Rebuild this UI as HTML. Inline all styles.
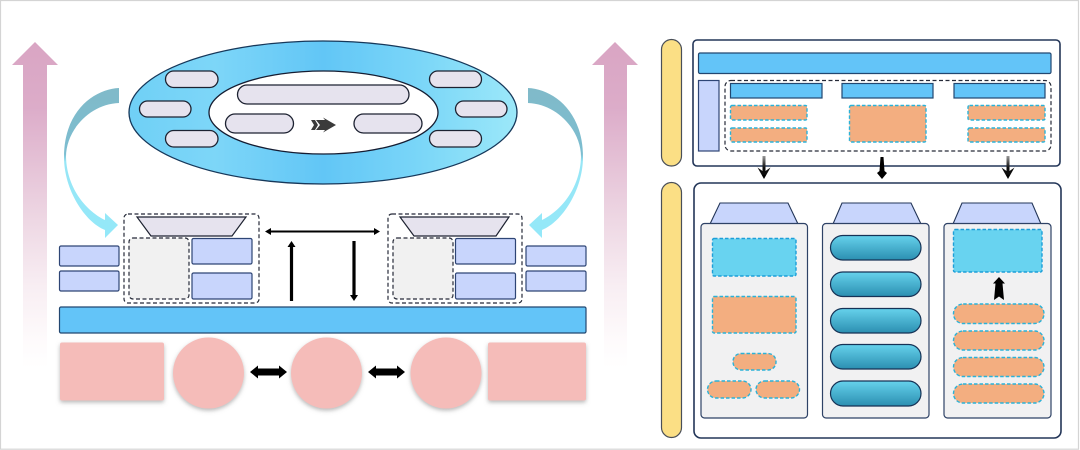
<!DOCTYPE html>
<html><head><meta charset="utf-8"><style>
html,body{margin:0;padding:0;background:#fff;width:1080px;height:450px;overflow:hidden}
svg{display:block}
.pill{fill:#e6e3ee;stroke:#1f2330;stroke-width:1.3}
.lb{fill:#c8d5fc;stroke:#2f4475;stroke-width:1.2}
.bl{fill:#63c4f8;stroke:#234670;stroke-width:1.2}
.dash{fill:none;stroke:#252a38;stroke-width:1.2;stroke-dasharray:4 2.5}
.gr{fill:#f1f1f1;stroke:#252a38;stroke-width:1.2;stroke-dasharray:4 2.5}
.or{fill:#f3ae80;stroke:#2bb2d8;stroke-width:1.4;stroke-dasharray:3.5 2}
.cy{fill:#68d3f0;stroke:#1f9fd8;stroke-width:1.4;stroke-dasharray:3.5 2}
.col{fill:#f1f1f2;stroke:#2f4266;stroke-width:1.2}
.tr{fill:#c8d5fc;stroke:#243658;stroke-width:1.1}
.tp{fill:#e6e3ee;stroke:#1f2330;stroke-width:1.2}
.yl{fill:#fbdf85;stroke:#4a4f58;stroke-width:1.2}
.tl{fill:url(#tl);stroke:#173356;stroke-width:1.2}
.pk{fill:#f5bcb9}
</style></head><body>
<svg width="1080" height="450" viewBox="0 0 1080 450" xmlns="http://www.w3.org/2000/svg">
<defs>
<linearGradient id="up" gradientUnits="userSpaceOnUse" x1="0" y1="42" x2="0" y2="368">
<stop offset="0" stop-color="#d9a5c3"/><stop offset=".2" stop-color="#dcacc9"/><stop offset=".55" stop-color="#eed8e4"/><stop offset=".75" stop-color="#f8eef3"/><stop offset=".92" stop-color="#fefbfc"/><stop offset="1" stop-color="#ffffff"/>
</linearGradient>
<linearGradient id="ell" x1="0" y1="0" x2="1" y2="0">
<stop offset="0" stop-color="#6fd0f6"/><stop offset=".22" stop-color="#7dd6f8"/><stop offset=".5" stop-color="#62c6f6"/><stop offset=".75" stop-color="#7ad6f8"/><stop offset="1" stop-color="#9ce8f9"/>
</linearGradient>
<linearGradient id="cv" gradientUnits="userSpaceOnUse" x1="0" y1="88" x2="0" y2="238">
<stop offset="0" stop-color="#80bac9"/><stop offset=".44" stop-color="#7cbdd0"/><stop offset=".49" stop-color="#97e6f6"/><stop offset="1" stop-color="#94e8f9"/>
</linearGradient>
<linearGradient id="tl" x1="0" y1="0" x2="0" y2="1">
<stop offset="0" stop-color="#66d2ec"/><stop offset="1" stop-color="#2b8fb1"/>
</linearGradient>
<filter id="b" x="-5%" y="-5%" width="110%" height="110%"><feGaussianBlur stdDeviation="0.3"/></filter>
<filter id="sh" x="-15%" y="-15%" width="130%" height="130%"><feGaussianBlur in="SourceAlpha" stdDeviation="2"/><feOffset dx="0" dy="2"/><feColorMatrix values="0 0 0 0 .25 0 0 0 0 .25 0 0 0 0 .25 0 0 0 .6 0"/><feMerge><feMergeNode/><feMergeNode in="SourceGraphic"/></feMerge></filter>
<linearGradient id="fd" x1="0" y1="0" x2="0" y2="1"><stop offset="0" stop-color="#999"/><stop offset=".5" stop-color="#111"/><stop offset="1" stop-color="#000"/></linearGradient>
</defs>
<rect width="1080" height="450" fill="#fff"/>
<g filter="url(#b)">
<path d="M0.5,0.5H1078.5V449.2H0.5Z" fill="none" stroke="#d4d4d4" stroke-width="1.2"/>

<path d="M35,42L58,65H47V368H23V65H12Z" fill="url(#up)"/>
<path d="M615,42L638,65H627V368H604V65H592Z" fill="url(#up)"/>

<ellipse cx="323" cy="112.5" rx="194" ry="71.5" fill="url(#ell)" stroke="#17375a" stroke-width="1.3"/>
<ellipse cx="323.5" cy="112.5" rx="114.5" ry="41.5" fill="#fff" stroke="#141f33" stroke-width="1.3"/>
<rect class="pill" x="165.5" y="71" width="52.5" height="16.5" rx="8.2"/>
<rect class="pill" x="139.5" y="101" width="51.5" height="16" rx="8"/>
<rect class="pill" x="165.5" y="130.5" width="52.5" height="16.5" rx="8.2"/>
<rect class="pill" x="429.5" y="71" width="52" height="16.5" rx="8.2"/>
<rect class="pill" x="455.5" y="101" width="51.5" height="16" rx="8"/>
<rect class="pill" x="429.5" y="130.5" width="52" height="16.5" rx="8.2"/>
<rect class="pill" x="237.5" y="85" width="171.5" height="19" rx="9.5"/>
<rect class="pill" x="225.5" y="114" width="68" height="19" rx="9.5"/>
<rect class="pill" x="354" y="114" width="68" height="19" rx="9.5"/>
<path d="M311,120L315,120L318,125L315,130L311,130L314,125Z" fill="#3a3a3a"/>
<path d="M316,120H325L323,117.5L336,125L323,132.5L325,130H316L320,125Z" fill="#3a3a3a"/>

<path d="M119,88C95,89 64,110 64,157C64,190 85,222 105,230L105,238L118,225L105,213L105,220C88,212 67,190 66,157C66,130 90,104 119,103Z" fill="url(#cv)"/>
<path d="M528,88C552,89 583,110 583,157C583,190 562,222 542,230L542,238L529,225L542,213L542,220C559,212 580,190 581,157C581,130 557,104 528,103Z" fill="url(#cv)"/>

<rect class="dash" x="124" y="214" width="135" height="89" rx="4"/>
<path class="tp" d="M137,217H246L232,236H151Z"/>
<rect class="gr" x="129" y="238" width="60" height="61" rx="4"/>
<rect class="lb" x="192" y="238.5" width="60" height="25.5" rx="1.5"/>
<rect class="lb" x="192" y="273" width="60" height="26" rx="1.5"/>
<rect class="lb" x="59.5" y="246" width="59.5" height="20" rx="1.5"/>
<rect class="lb" x="59.5" y="271" width="59.5" height="20" rx="1.5"/>

<rect class="dash" x="388" y="214" width="134" height="89" rx="4"/>
<path class="tp" d="M400,217H509L496,236H414Z"/>
<rect class="gr" x="393" y="238" width="60" height="61" rx="4"/>
<rect class="lb" x="455.5" y="238.5" width="60" height="25.5" rx="1.5"/>
<rect class="lb" x="455.5" y="273" width="60" height="26" rx="1.5"/>
<rect class="lb" x="526" y="246" width="60" height="20" rx="1.5"/>
<rect class="lb" x="526" y="271" width="60" height="20" rx="1.5"/>

<path d="M270,231.5H375" stroke="#000" stroke-width="2"/>
<path d="M265,231.5L271,228V235ZM380,231.5L374,228V235Z" fill="#000"/>
<path d="M291.5,245V301" stroke="#000" stroke-width="3.2"/>
<path d="M291.5,241L295.5,247H287.5Z" fill="#000"/>
<path d="M354,241V297" stroke="#000" stroke-width="3.2"/>
<path d="M354,301L350,295H358Z" fill="#000"/>

<rect class="bl" x="59.5" y="307" width="526.5" height="26" rx="1.5"/>

<g class="pk" filter="url(#sh)">
<rect x="60" y="342.5" width="104" height="58" rx="2"/>
<circle cx="208.5" cy="373" r="35.5"/>
<circle cx="326.5" cy="373" r="35.5"/>
<circle cx="446" cy="373" r="35.5"/>
<rect x="488" y="342.5" width="98" height="58" rx="2"/>
</g>
<path d="M250,372L258,365.5V368.5H279V365.5L287,372L279,378.5V375.5H258V378.5Z" fill="#000"/>
<path d="M368,372L376,365.5V368.5H397V365.5L405,372L397,378.5V375.5H376V378.5Z" fill="#000"/>

<rect class="yl" x="661.5" y="39.5" width="20" height="126.5" rx="10"/>
<rect class="yl" x="661.5" y="182.5" width="20" height="255" rx="10"/>

<rect x="693" y="40" width="367" height="126" rx="4" fill="#fff" stroke="#243658" stroke-width="1.6"/>
<rect class="bl" x="698.5" y="53" width="352.5" height="20.5" rx="1.5"/>
<rect class="lb" x="698.5" y="80.5" width="20.5" height="70.5"/>
<rect class="dash" x="725" y="80.5" width="326" height="70.5" rx="6"/>
<rect class="bl" x="730.5" y="83.5" width="91.5" height="14.5"/>
<rect class="bl" x="842" y="83.5" width="91" height="14.5"/>
<rect class="bl" x="954" y="83.5" width="91" height="14.5"/>
<rect class="or" x="730.5" y="105.5" width="76.5" height="14.5" rx="1.5"/>
<rect class="or" x="730.5" y="128" width="76.5" height="14" rx="1.5"/>
<rect class="or" x="849.5" y="105.5" width="76.5" height="36.5" rx="1.5"/>
<rect class="or" x="968" y="105.5" width="77" height="14.5" rx="1.5"/>
<rect class="or" x="968" y="128" width="77" height="14" rx="1.5"/>

<path d="M762.5,156H765.5V171L770.5,167.5L764,179L757.5,167.5L762.5,171Z" fill="url(#fd)"/>
<path d="M880.5,157H883.5L884.5,171L887,173L882,179L877,173L879.5,171Z" fill="#000"/>
<path d="M1006.5,156H1009.5V171L1014.5,167.5L1008,179L1001.5,167.5L1006.5,171Z" fill="url(#fd)"/>

<rect x="694" y="183" width="367" height="255" rx="7" fill="#fff" stroke="#243658" stroke-width="1.6"/>

<path class="tr" d="M720,203H788L798,224H710Z"/>
<rect class="col" x="701" y="223.5" width="106.5" height="194.5" rx="3.5"/>
<rect class="cy" x="712.5" y="238.5" width="83.5" height="37.5" rx="1.5"/>
<rect class="or" x="712.5" y="296.5" width="83.5" height="36.5" rx="1.5"/>
<rect class="or" x="733" y="353.5" width="43" height="16.5" rx="8"/>
<rect class="or" x="707.5" y="381" width="43.5" height="17" rx="8.5"/>
<rect class="or" x="756" y="381" width="43.5" height="17" rx="8.5"/>

<path class="tr" d="M842,203H911L921,224H833Z"/>
<rect class="col" x="822.5" y="223.5" width="106.5" height="194.5" rx="3.5"/>
<rect class="tl" x="830.5" y="235.5" width="90.5" height="24.5" rx="12.2"/>
<rect class="tl" x="830.5" y="272" width="90.5" height="24.5" rx="12.2"/>
<rect class="tl" x="830.5" y="308.5" width="90.5" height="24.5" rx="12.2"/>
<rect class="tl" x="830.5" y="344.5" width="90.5" height="24.5" rx="12.2"/>
<rect class="tl" x="830.5" y="381" width="90.5" height="25" rx="12.5"/>

<path class="tr" d="M962,203H1032L1041,224H953Z"/>
<rect class="col" x="944" y="223.5" width="107" height="194.5" rx="3.5"/>
<rect class="cy" x="953.5" y="229.5" width="88.5" height="42.5" rx="1.5"/>
<path d="M999,277L1005,283.5H1002.5L1004,300L999,296.5L994,300L995.5,283.5H993Z" fill="#000"/>
<rect class="or" x="953.5" y="304" width="90.5" height="19.5" rx="9.7"/>
<rect class="or" x="953.5" y="331" width="90.5" height="19" rx="9.5"/>
<rect class="or" x="953.5" y="357.5" width="90.5" height="19" rx="9.5"/>
<rect class="or" x="953.5" y="384" width="90.5" height="19" rx="9.5"/>
</g>
</svg>
</body></html>
